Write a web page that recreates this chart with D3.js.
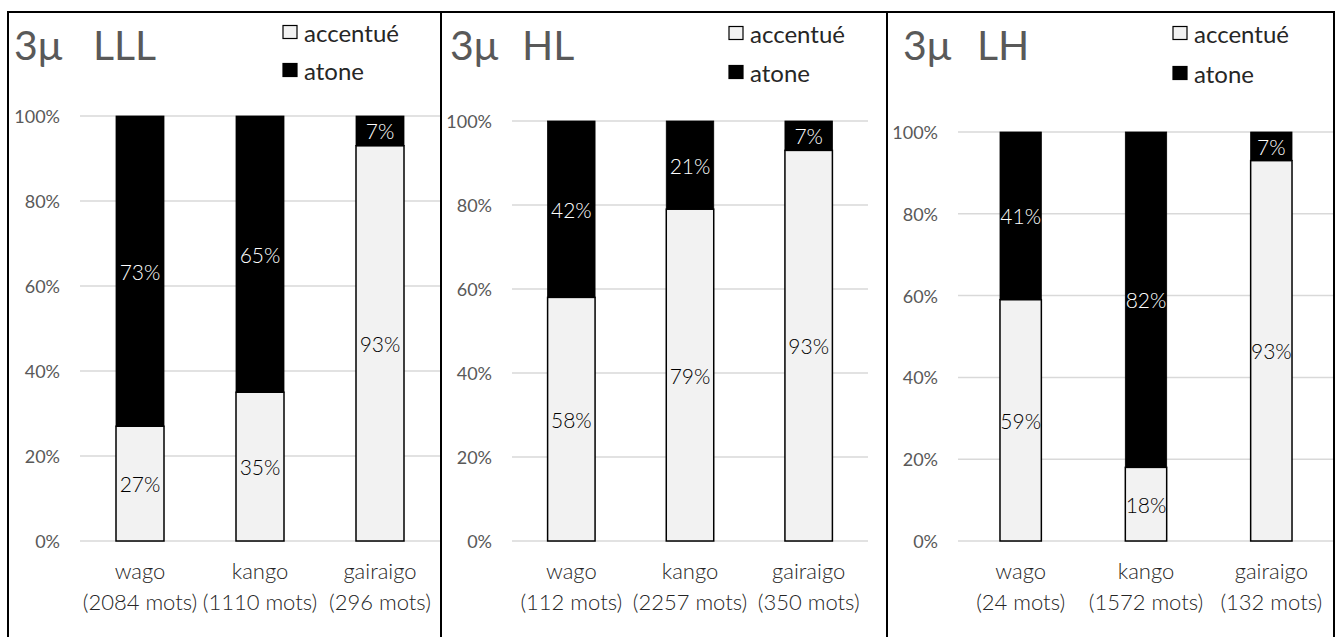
<!DOCTYPE html>
<html>
<head>
<meta charset="utf-8">
<script src="https://cdn.jsdelivr.net/npm/d3@7"></script>
<style>
  html, body { margin: 0; padding: 0; background: #fff; }
  svg { display: block; font-family: Lato, "Open Sans", sans-serif; }
</style>
</head>
<body>
<svg id="chart" width="1341" height="637"></svg>
<script>
// ---- data ----
const categories = ["wago", "kango", "gairaigo"];
const panelTitles = ["LLL", "HL", "LH"];
const titlePrefix = "3μ";
const wordCounts = [[2084, 1110, 296], [112, 2257, 350], [24, 1572, 132]];
const accentue = [[27, 35, 93], [58, 79, 93], [59, 18, 93]];
const atone = [[73, 65, 7], [42, 21, 7], [41, 82, 7]];
const seriesNames = ["accentué", "atone"];
const yTicks = [0, 20, 40, 60, 80, 100];
const yTickLabels = yTicks.map(d => d + "%");

// ---- layout (positions only) ----
const layouts = [
  { bx0: 8,   bx1: 441,  px0: 80,  px1: 440,  py0: 116, py1: 541, pad: 0.6,  tx: 14,  tx2: 93,  lx: 283,  ly: [32, 70], yl: 60 },
  { bx0: 441, bx1: 887,  px0: 512, px1: 868,  py0: 121, py1: 541, pad: 0.6,  tx: 450, tx2: 522, lx: 729,  ly: [33, 72], yl: 492 },
  { bx0: 887, bx1: 1334, px0: 958, px1: 1334, py0: 132, py1: 541, pad: 0.67, tx: 903, tx2: 977, lx: 1173, ly: [33, 73], yl: 938 }
];
const fills = ["#f2f2f2", "#000000"];

const svg = d3.select("#chart");

layouts.forEach((L, pi) => {
  const g = svg.append("g");
  const x = d3.scaleBand().domain(categories).range([L.px0, L.px1]).paddingInner(L.pad).paddingOuter(L.pad / 2);
  const y = d3.scaleLinear().domain([0, 100]).range([L.py1, L.py0]);

  // gridlines
  g.selectAll("line.grid").data(yTicks).join("line")
    .attr("x1", L.px0).attr("x2", L.px1)
    .attr("y1", d => y(d)).attr("y2", d => y(d))
    .attr("stroke", "#d9d9d9").attr("stroke-width", 1.5);

  // y tick labels
  g.selectAll("text.ytick").data(yTicks).join("text")
    .attr("x", L.yl).attr("y", d => y(d))
    .attr("text-anchor", "end").attr("dominant-baseline", "central")
    .attr("font-size", 18).attr("fill", "#595959")
    .text((d, i) => yTickLabels[i]);

  // stacked data
  const rows = categories.map((c, i) => ({ cat: c, a: accentue[pi][i], b: atone[pi][i] }));
  const stack = d3.stack().keys(["a", "b"])(rows);

  stack.forEach((layer, li) => {
    g.selectAll("rect.s" + li).data(layer).join("rect")
      .attr("x", d => x(d.data.cat))
      .attr("width", x.bandwidth())
      .attr("y", d => y(d[1]))
      .attr("height", d => y(d[0]) - y(d[1]))
      .attr("fill", fills[li])
      .attr("stroke", "#000")
      .attr("stroke-width", li === 0 ? 1.5 : 0.8);
  });
  stack.forEach((layer, li) => {
    g.selectAll("text.l" + li).data(layer).join("text")
      .attr("x", d => x(d.data.cat) + x.bandwidth() / 2)
      .attr("y", d => y((d[0] + d[1]) / 2))
      .attr("text-anchor", "middle").attr("dominant-baseline", "central")
      .attr("font-size", 21).attr("font-weight", 300)
      .attr("fill", li === 0 ? "#000" : "#fff")
      .text(d => (d[1] - d[0]) + "%");
  });

  // category labels
  categories.forEach((c, i) => {
    const cx = x(c) + x.bandwidth() / 2;
    g.append("text").attr("x", cx).attr("y", 579).attr("text-anchor", "middle")
      .attr("font-size", 22).attr("font-weight", 300).attr("fill", "#262626").text(c);
    g.append("text").attr("x", cx).attr("y", 610).attr("text-anchor", "middle")
      .attr("font-size", 22).attr("font-weight", 300).attr("fill", "#262626").text("(" + wordCounts[pi][i] + " mots)");
  });

  // title
  g.append("text").attr("x", L.tx).attr("y", 60).attr("font-size", 41).attr("fill", "#595959").text(titlePrefix);
  g.append("text").attr("x", L.tx2).attr("y", 60).attr("font-size", 41).attr("fill", "#595959").text(panelTitles[pi]);

  // legend
  seriesNames.forEach((s, si) => {
    g.append("rect").attr("x", L.lx).attr("y", L.ly[si] - 6.5).attr("width", 14).attr("height", 13)
      .attr("fill", fills[si]).attr("stroke", "#000").attr("stroke-width", 1.2);
    g.append("text").attr("x", L.lx + 21).attr("y", L.ly[si]).attr("dominant-baseline", "central")
      .attr("font-size", 24).attr("fill", "#262626").text(s);
  });

  // border
  g.append("rect").attr("x", L.bx0).attr("y", 12).attr("width", L.bx1 - L.bx0).attr("height", 640)
    .attr("fill", "none").attr("stroke", "#000").attr("stroke-width", 2);
});
</script>
</body>
</html>
